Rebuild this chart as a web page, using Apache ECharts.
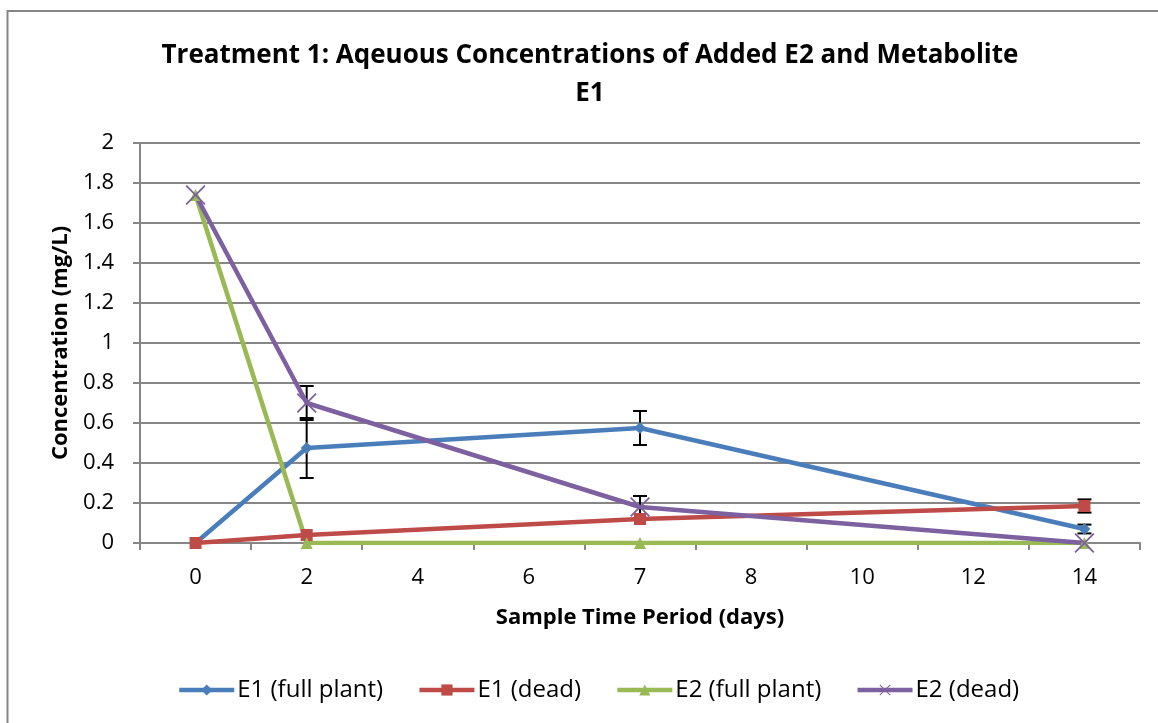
<!DOCTYPE html>
<html><head><meta charset="utf-8">
<script src="https://cdn.jsdelivr.net/npm/echarts@6/dist/echarts.min.js"></script>
<style>html,body{margin:0;padding:0;background:#fff}#c{width:1158px;height:723px}</style>
</head><body><div id="c"></div>
<script>
// ---- data ----
const categories = ['0','2','4','6','7','8','10','12','14'];
const e1Full  = [0, 0.475, null, null, 0.575, null, null, null, 0.07];
const e1Dead  = [0, 0.04,  null, null, 0.12,  null, null, null, 0.185];
const e2Full  = [1.74, 0, null, null, 0, null, null, null, 0];
const e2Dead  = [1.74, 0.70, null, null, 0.18, null, null, null, 0];
// error half-widths (same index as categories)
const e1FullErr = [null, 0.15, null, null, 0.085, null, null, null, 0.022];
const e1DeadErr = [null, null, null, null, null, null, null, null, 0.033];
const e2DeadErr = [null, 0.085, null, null, 0.055, null, null, null, null];
const seriesNames = ['E1 (full plant)', 'E1 (dead)', 'E2 (full plant)', 'E2 (dead)'];
const colors = ['#4A7EBB', '#BE4B48', '#98B954', '#7D60A0'];

function errRows(vals, errs) {
  const out = [];
  vals.forEach((v, i) => { if (v != null && errs[i] != null) out.push([i, v - errs[i], v + errs[i]]); });
  return out;
}
const errData = [].concat(errRows(e1Full, e1FullErr), errRows(e1Dead, e1DeadErr), errRows(e2Dead, e2DeadErr));

const FONT = 'Open Sans';
const xPath = 'path://M0,1.3 L1.3,0 L10,8.7 L18.7,0 L20,1.3 L11.3,10 L20,18.7 L18.7,20 L10,11.3 L1.3,20 L0,18.7 L8.7,10 Z';

const chart = echarts.init(document.getElementById('c'), null, {renderer: 'canvas'});
function lineSeries(name, data, color, symbol, size) {
  return {
    name, type: 'line', data, connectNulls: true,
    symbol, symbolSize: size, showSymbol: true,
    lineStyle: {color, width: 4.5},
    itemStyle: {color, borderWidth: 0},
    emphasis: {disabled: true},
    animation: false
  };
}
chart.setOption({
  animation: false,
  textStyle: {fontFamily: FONT},
  title: {
    text: 'Treatment 1: Aqeuous Concentrations of Added E2 and Metabolite\nE1',
    left: 585, top: 32, textAlign: 'center',
    textStyle: {fontFamily: FONT, fontWeight: 'bold', fontSize: 26, color: '#000', lineHeight: 38}
  },
  legend: {
    bottom: 16, left: 172,
    itemWidth: 55, itemHeight: 14, itemGap: 34,
    lineStyle: {width: 4.5},
    textStyle: {fontFamily: FONT, fontSize: 24, color: '#000', padding: [0, 0, 0, -2]},
    data: seriesNames
  },
  grid: {left: 140, right: 18, top: 143, bottom: 180, containLabel: false},
  xAxis: {
    type: 'category', data: categories, boundaryGap: true,
    name: 'Sample Time Period (days)', nameLocation: 'middle', nameGap: 64,
    nameTextStyle: {fontFamily: FONT, fontWeight: 'bold', fontSize: 22, color: '#000'},
    axisLine: {lineStyle: {color: '#868686', width: 2}},
    axisTick: {show: true, length: 7, alignWithLabel: false, lineStyle: {color: '#868686', width: 2}},
    axisLabel: {fontFamily: FONT, fontSize: 22, color: '#000', margin: 24}
  },
  yAxis: {
    type: 'value', min: 0, max: 2, interval: 0.2,
    name: 'Concentration (mg/L)', nameLocation: 'middle', nameGap: 68, nameRotate: 90,
    nameTextStyle: {fontFamily: FONT, fontWeight: 'bold', fontSize: 22, color: '#000'},
    axisLine: {show: true, lineStyle: {color: '#868686', width: 2}},
    axisTick: {show: true, inside: false, length: 7, lineStyle: {color: '#868686', width: 2}},
    splitLine: {lineStyle: {color: '#868686', width: 2}},
    axisLabel: {fontFamily: FONT, fontSize: 22, color: '#000', margin: 26,
      formatter: v => String(Math.round(v * 10) / 10)}
  },
  graphic: [{
    type: 'rect', shape: {x: 7.5, y: 11, width: 1200, height: 800},
    style: {fill: 'none', stroke: '#868686', lineWidth: 2}, silent: true, z: -10
  }],
  series: [
    lineSeries(seriesNames[0], e1Full, colors[0], 'diamond', 12),
    lineSeries(seriesNames[1], e1Dead, colors[1], 'rect', 12),
    lineSeries(seriesNames[2], e2Full, colors[2], 'triangle', 12),
    lineSeries(seriesNames[3], e2Dead, colors[3], xPath, 20),
    {
      type: 'custom', name: 'err', data: errData, z: 3, silent: true,
      renderItem: function (params, api) {
        const x = api.value(0);
        const lo = api.coord([x, api.value(1)]);
        const hi = api.coord([x, api.value(2)]);
        const w = 7;
        const st = {stroke: '#000', lineWidth: 2};
        return {type: 'group', children: [
          {type: 'line', shape: {x1: lo[0], y1: lo[1], x2: hi[0], y2: hi[1]}, style: st},
          {type: 'line', shape: {x1: lo[0]-w, y1: lo[1], x2: lo[0]+w, y2: lo[1]}, style: st},
          {type: 'line', shape: {x1: hi[0]-w, y1: hi[1], x2: hi[0]+w, y2: hi[1]}, style: st}
        ]};
      }
    }
  ]
});
</script></body></html>
